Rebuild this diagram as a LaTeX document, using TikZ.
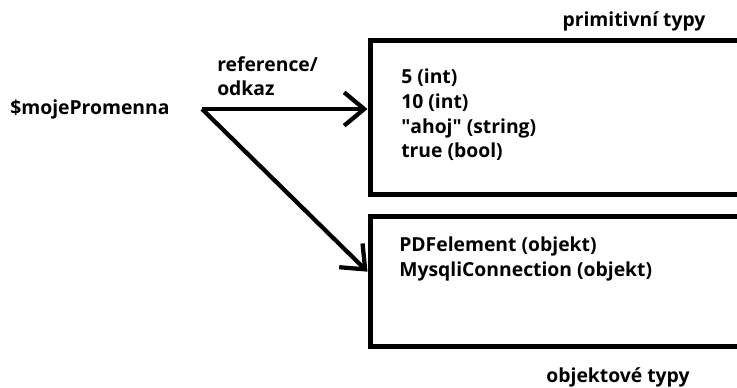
\documentclass[tikz,border=0pt]{standalone}
\usepackage{fontspec}
\setmainfont{Open Sans}
\usetikzlibrary{arrows.meta,positioning}
\tikzstyle{typebox} = [rectangle, draw=black, line width=3.75pt, minimum width=282pt, inner sep=0pt]
\tikzstyle{lbl} = [font=\fontsize{14.5}{18.5}\selectfont\bfseries, inner sep=0pt, align=left]
\tikzstyle{arrow} = [line width=3.2pt, -{Straight Barb[length=15pt,width=25pt]}]

\begin{document}
\begin{tikzpicture}[x=0.75pt, y=-0.75pt]
  \clip (0,0) rectangle (737,387);
  % the two boxes run off the right edge
  \node (prim)[typebox, minimum height=115.5pt] at (558,117) {};
  \node (obj)[typebox, minimum height=97.5pt] at (558,281) {};
  \node (primtitle)[lbl] at (634,21) {primitivní typy};
  \node (objtitle)[lbl] at (618,377) {objektové typy};
  \node (primtxt)[lbl, anchor=north west] at (401,69) {5 (int)\\10 (int)\\\textquotedbl ahoj\textquotedbl{} (string)\\true (bool)};
  \node (objtxt)[lbl, anchor=north west] at (399,237) {PDFelement (objekt)\\MysqliConnection (objekt)};
  \node (var)[lbl, anchor=west] at (10,109) {\$mojePromenna};
  \node (ref)[lbl, anchor=north west] at (217,56) {reference/\\odkaz};
  \coordinate (fork) at (202,109);
  \draw[arrow] (fork) -- (fork -| prim.west);
  \draw[arrow] (fork) -- ([yshift=7pt]obj.west);
\end{tikzpicture}
\end{document}
